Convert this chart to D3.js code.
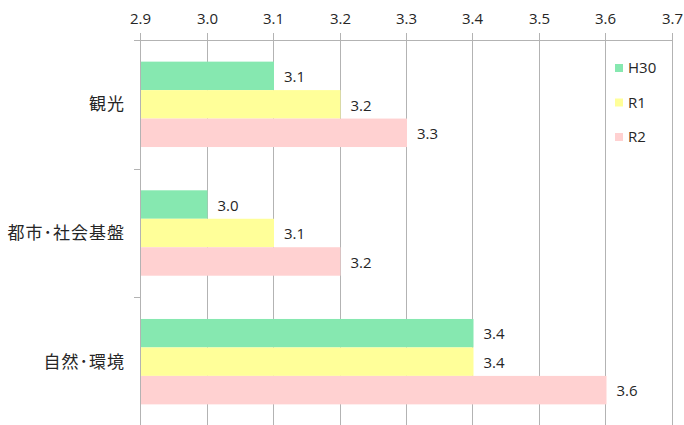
<!DOCTYPE html>
<html>
<head>
<meta charset="utf-8">
<script src="https://cdn.jsdelivr.net/npm/d3@7"></script>
<style>
  html, body { margin: 0; padding: 0; background: #fff; }
  svg { display: block; }
  text { font-family: "Open Sans", "Noto Sans CJK JP", sans-serif; fill: #262626; }
</style>
</head>
<body>
<svg id="chart" width="684" height="425"></svg>
<script>
const categories = ["観光", "都市･社会基盤", "自然･環境"];
const seriesNames = ["H30", "R1", "R2"];
const seriesColors = ["#86E8B0", "#FFFF99", "#FFD1D1"];
const valuesH30 = [3.1, 3.0, 3.4];
const valuesR1 = [3.2, 3.1, 3.4];
const valuesR2 = [3.3, 3.2, 3.6];
const tickValues = [2.9, 3.0, 3.1, 3.2, 3.3, 3.4, 3.5, 3.6, 3.7];

const seriesValues = [valuesH30, valuesR1, valuesR2];

const svg = d3.select("#chart");
const plotLeft = 140, plotRight = 672, plotTop = 40, plotBottom = 426;
const numSize = 15;

const x = d3.scaleLinear().domain([2.9, 3.7]).range([plotLeft, plotRight]);
const y = d3.scaleBand().domain(categories).range([plotTop, plotBottom]).paddingInner(0).paddingOuter(0);
const inner = d3.scaleBand().domain(seriesNames).range([0, y.bandwidth()]).paddingInner(0).paddingOuter(0.76);

const grid = "#b3b3b3";

// vertical gridlines
svg.append("g")
  .selectAll("line")
  .data(tickValues)
  .join("line")
  .attr("x1", d => Math.round(x(d)) + 0.5).attr("x2", d => Math.round(x(d)) + 0.5)
  .attr("y1", plotTop).attr("y2", plotBottom)
  .attr("stroke", grid).attr("stroke-width", 1);

// top value axis
const xAxis = svg.append("g")
  .attr("transform", `translate(0,${plotTop})`)
  .call(d3.axisTop(x).tickValues(tickValues).tickFormat(d3.format(".1f")).tickSize(7).tickPadding(9).offset(0));
xAxis.select(".domain").attr("stroke", grid).attr("d", `M${plotLeft - 6},0.5H${plotRight}`);
xAxis.selectAll(".tick").attr("transform", d => `translate(${Math.round(x(d)) + 0.5},0)`);
xAxis.selectAll(".tick line").attr("stroke", grid);
xAxis.selectAll(".tick text").attr("font-size", numSize).attr("fill", "#262626")
  .style("font-family", "'Open Sans', sans-serif");

// bars
categories.forEach((cat, ci) => {
  const g = svg.append("g").attr("transform", `translate(0,${y(cat)})`);
  seriesNames.forEach((s, si) => {
    const v = seriesValues[si][ci];
    g.append("rect")
      .attr("x", x(2.9) + 1)
      .attr("y", inner(s))
      .attr("width", x(v) - x(2.9))
      .attr("height", inner.bandwidth())
      .attr("fill", seriesColors[si]);
    g.append("text")
      .attr("x", x(v) + 11)
      .attr("y", inner(s) + inner.bandwidth() / 2 + 1)
      .attr("dy", "0.35em")
      .attr("font-size", numSize)
      .text(d3.format(".1f")(v));
  });
});

// category axis
const yAxis = svg.append("g")
  .attr("transform", `translate(${plotLeft},0)`)
  .call(d3.axisLeft(y).tickSize(0).tickPadding(15));
yAxis.select(".domain").attr("stroke", grid).attr("d", `M0.5,${plotTop}V${plotBottom}`);
yAxis.selectAll(".tick text").attr("font-size", 17).attr("letter-spacing", 1)
  .attr("dy", "0.36em")
  .style("font-family", "'Noto Sans CJK JP', sans-serif").attr("fill", "#333");

// category separators on the left axis
svg.append("g")
  .selectAll("line")
  .data(categories.slice(1))
  .join("line")
  .attr("x1", plotLeft - 6).attr("x2", plotLeft)
  .attr("y1", d => Math.round(y(d)) + 0.5).attr("y2", d => Math.round(y(d)) + 0.5)
  .attr("stroke", grid);

// legend
const legend = svg.append("g").attr("transform", "translate(615,68)");
seriesNames.forEach((s, i) => {
  const row = legend.append("g").attr("transform", `translate(0,${i * 34.5})`);
  row.append("rect").attr("x", 0).attr("y", -4).attr("width", 8).attr("height", 8)
    .attr("fill", seriesColors[i]);
  row.append("text").attr("x", 13).attr("y", 0).attr("dy", "0.35em")
    .attr("font-size", numSize).text(s);
});
</script>
</body>
</html>
